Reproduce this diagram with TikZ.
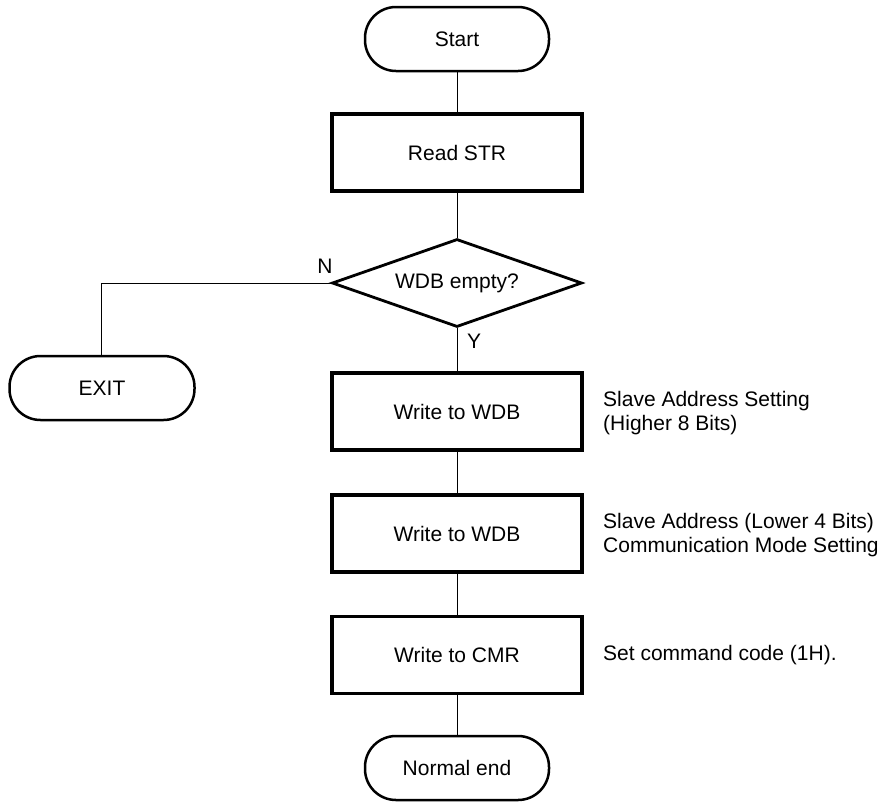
\documentclass[tikz,border=0pt]{standalone}
\usepackage{fontspec}
\setmainfont{Liberation Sans}
\usetikzlibrary{shapes.geometric}
\begin{document}
\begin{tikzpicture}[x=1pt,y=-1pt,
  every node/.style={font=\fontsize{21}{24}\selectfont},
  term/.style={draw,line width=2.5pt,rounded corners=31pt,minimum width=184pt,minimum height=64pt,inner sep=0pt},
  proc/.style={draw,line width=3.2pt,minimum width=250pt,minimum height=77pt,inner sep=0pt},
  dec/.style={draw,line width=2.8pt,diamond,aspect=2.84,minimum width=250pt,minimum height=88pt,inner sep=0pt},
  note/.style={anchor=west,align=left,inner sep=0pt},
  conn/.style={line width=1pt}]
\useasboundingbox (0,0) rectangle (886,801);
\node[term] (start) at (457,39) {Start};
\node[proc] (read) at (457,152.5) {Read STR};
\node[dec] (wdb) at (457,283) {WDB empty?};
\node[term,minimum width=185pt] (exit) at (102,388) {EXIT};
\node[proc] (w1) at (457,411.5) {Write to WDB};
\node[proc] (w2) at (457,533.5) {Write to WDB};
\node[proc] (cmr) at (457,655) {Write to CMR};
\node[term] (endn) at (457,768) {Normal end};
\node[note] (n1) at (603,413) {Slave Address Setting\\(Higher 8 Bits)};
\node[note] (n2) at (603,535) {Slave Address (Lower 4 Bits)\\Communication Mode Setting};
\node[note] (n3) at (603,655) {Set command code (1H).};
\node (lN) at (325,266) {N};
\node (lY) at (474,341) {Y};
\coordinate (corner) at (101,283);
\draw[conn] (start) -- (read);
\draw[conn] (read) -- (wdb);
\draw[conn] (wdb) -- (w1);
\draw[conn] (w1) -- (w2);
\draw[conn] (w2) -- (cmr);
\draw[conn] (cmr) -- (endn);
\draw[conn] (wdb.west) -- (corner) -- (exit.north -| corner);
\end{tikzpicture}
\end{document}
